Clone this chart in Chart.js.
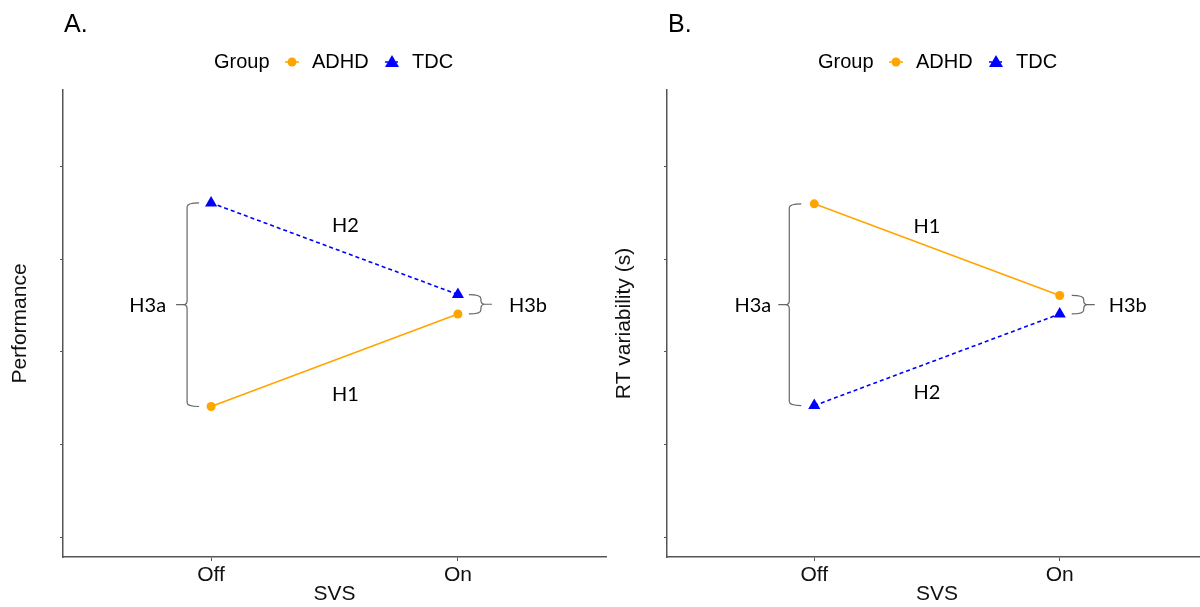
<!DOCTYPE html>
<html>
<head>
<meta charset="utf-8">
<script src="https://cdn.jsdelivr.net/npm/chart.js@4.4.1/dist/chart.umd.min.js"></script>
<style>
  html, body { margin: 0; padding: 0; background: #fff; overflow: hidden; }
  body { width: 1200px; height: 607px; position: relative; }
  .panel { position: absolute; top: 0; height: 607px; }
  #panelA { left: 0; width: 640px; }
  #panelB { left: 604px; width: 610px; }
</style>
</head>
<body>
<div class="panel" id="panelA"><canvas id="chartA" width="640" height="607"></canvas></div>
<div class="panel" id="panelB"><canvas id="chartB" width="610" height="607"></canvas></div>
<script>
// categories and values (y axis has unlabelled ticks)
const svsLevels = ["Off", "On"];
const yTicks = [1, 2, 3, 4, 5];
const perfADHD = [2.41, 3.41];
const perfTDC = [4.61, 3.62];
const rtADHD = [4.60, 3.61];
const rtTDC = [2.42, 3.41];

const ORANGE = "#FFA500";
const BLUE = "#0000FF";
const AXIS = "#555555";
const SANS = "'Liberation Sans', Arial, sans-serif";
const NOTE = "Lato, 'Open Sans', sans-serif";

const toPoints = (vals) => vals.map((v, i) => ({ x: i, y: v }));

// braces, labels, legend and panel letter
const annotate = {
  id: "annotate",
  afterDraw(chart, args, opts) {
    const { ctx, chartArea } = chart;
    const xs = chart.scales.x, ys = chart.scales.y;
    const data = chart.data.datasets;
    ctx.save();

    // panel letter
    ctx.fillStyle = "#000";
    ctx.font = "25px " + SANS;
    ctx.textBaseline = "middle";
    ctx.textAlign = "left";
    ctx.fillText(opts.letter, chartArea.left + 1, 25);

    // legend
    const lx = chartArea.left + 151, ly = 62;
    ctx.font = "20px " + SANS;
    ctx.fillText("Group", lx, ly);
    ctx.strokeStyle = ORANGE; ctx.lineWidth = 1.5;
    ctx.beginPath(); ctx.moveTo(lx + 71, ly); ctx.lineTo(lx + 85, ly); ctx.stroke();
    ctx.fillStyle = ORANGE;
    ctx.beginPath(); ctx.arc(lx + 78, ly, 4.5, 0, Math.PI * 2); ctx.fill();
    ctx.fillStyle = "#000";
    ctx.fillText("ADHD", lx + 98, ly);
    ctx.strokeStyle = BLUE; ctx.setLineDash([3, 2]);
    ctx.beginPath(); ctx.moveTo(lx + 171, ly); ctx.lineTo(lx + 185, ly); ctx.stroke();
    ctx.setLineDash([]);
    ctx.fillStyle = BLUE;
    ctx.beginPath(); ctx.moveTo(lx + 178, ly - 7); ctx.lineTo(lx + 185, ly + 5); ctx.lineTo(lx + 171, ly + 5); ctx.closePath(); ctx.fill();
    ctx.fillStyle = "#000";
    ctx.fillText("TDC", lx + 198, ly);

    // curly braces between the two groups at one SVS level
    ctx.strokeStyle = "#666"; ctx.lineWidth = 1.2;
    ctx.font = "20px " + NOTE;
    opts.braces.forEach((b) => {
      const vals = data.map((d) => d.data[b.at].y);
      const y1 = ys.getPixelForValue(Math.max(...vals));
      const y2 = ys.getPixelForValue(Math.min(...vals));
      const dir = b.side === "left" ? 1 : -1;
      const xv = xs.getPixelForValue(b.at) - dir * b.offset;
      const ym = (y1 + y2) / 2;
      const r = Math.min(4, (y2 - y1) / 4);
      ctx.beginPath();
      ctx.moveTo(xv + dir * 12, y1);
      ctx.quadraticCurveTo(xv, y1, xv, y1 + r);
      ctx.lineTo(xv, ym - r);
      ctx.quadraticCurveTo(xv, ym, xv - dir * 4, ym);
      ctx.lineTo(xv - dir * 11, ym);
      ctx.moveTo(xv - dir * 4, ym);
      ctx.quadraticCurveTo(xv, ym, xv, ym + r);
      ctx.lineTo(xv, y2 - r);
      ctx.quadraticCurveTo(xv, y2, xv + dir * 12, y2);
      ctx.stroke();
      ctx.fillStyle = "#000";
      ctx.textAlign = b.side === "left" ? "right" : "left";
      ctx.fillText(b.text, xv - dir * b.gap, ym + 1);
    });

    // hypothesis labels next to each line
    ctx.textAlign = "center";
    opts.labels.forEach((l) => {
      const d = data[l.series].data;
      const mx = (xs.getPixelForValue(d[0].x) + xs.getPixelForValue(d[1].x)) / 2;
      const my = (ys.getPixelForValue(d[0].y) + ys.getPixelForValue(d[1].y)) / 2;
      ctx.fillText(l.text, mx + l.dx, my + l.dy);
    });
    ctx.restore();
  }
};

function makeChart(id, yTitle, adhd, tdc, extra, rightPad) {
  return new Chart(document.getElementById(id), {
    type: "line",
    data: {
      datasets: [
        {
          label: "ADHD",
          data: toPoints(adhd),
          borderColor: ORANGE,
          backgroundColor: ORANGE,
          borderWidth: 1.6,
          pointStyle: "circle",
          pointRadius: 4.5,
          pointBorderWidth: 0,
        },
        {
          label: "TDC",
          data: toPoints(tdc),
          borderColor: BLUE,
          backgroundColor: BLUE,
          borderWidth: 1.6,
          borderDash: [4, 3],
          pointStyle: "triangle",
          pointRadius: 7,
          pointBorderWidth: 0,
        },
      ],
    },
    options: {
      responsive: false,
      animation: false,
      layout: { padding: { top: 90, left: 0, right: rightPad, bottom: 0 } },
      plugins: { legend: { display: false }, tooltip: { enabled: false }, annotate: extra },
      scales: {
        x: {
          type: "linear",
          min: -0.6,
          max: 1.6,
          afterBuildTicks: (s) => { s.ticks = svsLevels.map((_, i) => ({ value: i })); },
          afterFit: (s) => { s.height = 50; },
          ticks: {
            callback: (v) => svsLevels[v] ?? "",
            font: { family: SANS, size: 21 },
            color: "#111",
            padding: 2,
            maxRotation: 0,
          },
          grid: { drawOnChartArea: false, drawTicks: true, tickLength: 4, color: AXIS, lineWidth: 1 },
          border: { color: AXIS, width: 1.5 },
          title: { display: true, text: "SVS", font: { family: SANS, size: 21 }, color: "#111", padding: { top: 0, bottom: 0 } },
        },
        y: {
          min: 0.784,
          max: 5.83,
          afterBuildTicks: (s) => { s.ticks = yTicks.map((v) => ({ value: v })); },
          afterFit: (s) => { s.width = 63; },
          ticks: { callback: () => "", padding: 0 },
          grid: { drawOnChartArea: false, drawTicks: true, tickLength: 3, color: AXIS, lineWidth: 1 },
          border: { color: AXIS, width: 1.5 },
          title: { display: true, text: yTitle, font: { family: SANS, size: 21 }, color: "#111", padding: { top: 8, bottom: 0 } },
        },
      },
    },
    plugins: [annotate],
  });
}

makeChart("chartA", "Performance", perfADHD, perfTDC, {
  letter: "A.",
  braces: [
    { at: 0, side: "left", offset: 24, gap: 21, text: "H3a" },
    { at: 1, side: "right", offset: 23, gap: 28, text: "H3b" },
  ],
  labels: [
    { series: 1, text: "H2", dx: 11, dy: -23 },
    { series: 0, text: "H1", dx: 11, dy: 34 },
  ],
}, 34);

makeChart("chartB", "RT variability (s)", rtADHD, rtTDC, {
  letter: "B.",
  braces: [
    { at: 0, side: "left", offset: 25, gap: 18, text: "H3a" },
    { at: 1, side: "right", offset: 24, gap: 25, text: "H3b" },
  ],
  labels: [
    { series: 0, text: "H1", dx: -10, dy: -23 },
    { series: 1, text: "H2", dx: -10, dy: 33 },
  ],
}, 5);
</script>
</body>
</html>
